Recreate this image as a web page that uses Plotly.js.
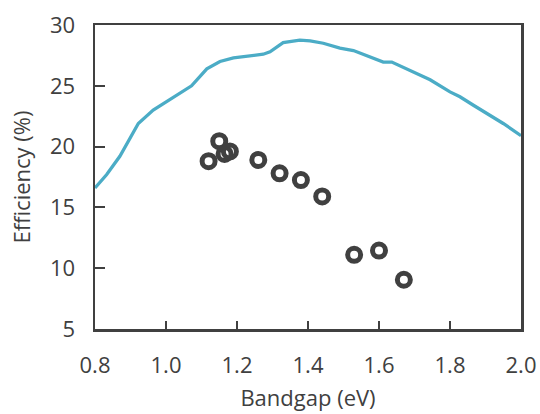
<!DOCTYPE html>
<html>
<head>
<meta charset="utf-8">
<script src="https://cdn.plot.ly/plotly-3.0.1.min.js"></script>
<style>html,body{margin:0;padding:0;background:#fff;}#chart{width:540px;height:414px;}</style>
</head>
<body>
<div id="chart"></div>
<script>
// Theoretical limit curve (Bandgap eV, Efficiency %)
const limitBandgap = [0.800, 0.833, 0.870, 0.922, 0.964, 1.011, 1.072, 1.115, 1.152, 1.190, 1.227, 1.274, 1.293, 1.330, 1.377, 1.406, 1.443, 1.490, 1.528, 1.565, 1.612, 1.636, 1.697, 1.744, 1.800, 1.828, 1.866, 1.913, 1.950, 2.000];
const limitEfficiency = [16.6, 17.7, 19.2, 21.9, 23.0, 23.9, 25.0, 26.4, 27.0, 27.3, 27.45, 27.6, 27.8, 28.55, 28.75, 28.7, 28.5, 28.1, 27.9, 27.5, 26.95, 26.95, 26.1, 25.5, 24.5, 24.1, 23.4, 22.6, 21.9, 20.9];

// Measured devices
const deviceBandgap = [1.12, 1.15, 1.165, 1.18, 1.26, 1.32, 1.38, 1.44, 1.53, 1.60, 1.67];
const deviceEfficiency = [18.8, 20.45, 19.4, 19.6, 18.9, 17.8, 17.25, 15.9, 11.1, 11.45, 9.05];

const xTicks = [0.8, 1.0, 1.2, 1.4, 1.6, 1.8, 2.0];
const xTickText = ['0.8', '1.0', '1.2', '1.4', '1.6', '1.8', '2.0'];
const yTicks = [5, 10, 15, 20, 25, 30];

const axisColor = '#404040';
const font = {family: 'Open Sans, Noto Sans, sans-serif', size: 22, color: '#404040'};

const traces = [
  {
    x: limitBandgap, y: limitEfficiency, type: 'scatter', mode: 'lines',
    line: {color: '#4bacc6', width: 3.3}, hoverinfo: 'skip'
  },
  {
    x: deviceBandgap, y: deviceEfficiency, type: 'scatter', mode: 'markers',
    marker: {symbol: 'circle-open', size: 13, color: axisColor, line: {color: axisColor, width: 5}}
  }
];

const layout = {
  width: 540, height: 414,
  margin: {l: 95, r: 19, t: 25, b: 85},
  paper_bgcolor: '#fff', plot_bgcolor: '#fff',
  showlegend: false,
  font: font,
  xaxis: {
    range: [0.8, 2.0], tickvals: xTicks, ticktext: xTickText,
    showgrid: false, zeroline: false,
    showline: true, linecolor: axisColor, linewidth: 2.5, mirror: true,
    ticks: 'inside', ticklen: 8, tickwidth: 2, tickcolor: axisColor,
    ticklabelstandoff: 15,
    tickfont: font,
    title: {text: 'Bandgap (eV)', font: font, standoff: 13}
  },
  yaxis: {
    range: [5, 30], tickvals: yTicks,
    showgrid: false, zeroline: false,
    showline: true, linecolor: axisColor, linewidth: 2.5, mirror: true,
    ticks: 'inside', ticklen: 10, tickwidth: 2, tickcolor: axisColor,
    ticklabelstandoff: 13,
    tickfont: font,
    title: {text: 'Efficiency (%)', font: font, standoff: 13}
  }
};

Plotly.newPlot('chart', traces, layout, {staticPlot: true, displayModeBar: false});
</script>
</body>
</html>
